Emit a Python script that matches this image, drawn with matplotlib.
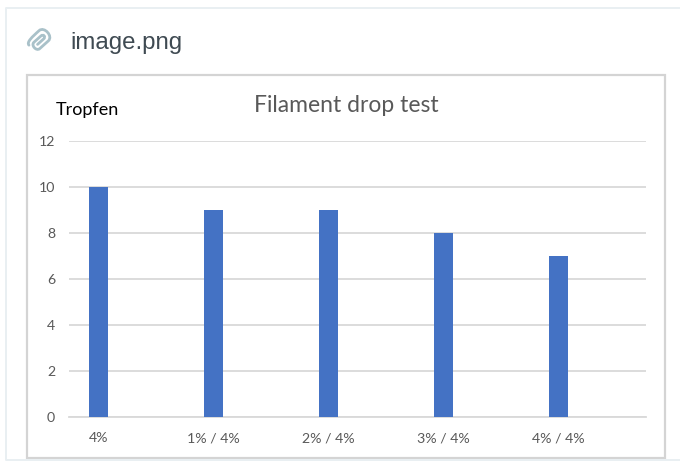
import matplotlib.pyplot as plt
from matplotlib.patches import PathPatch, Rectangle
from matplotlib.path import Path
from matplotlib.transforms import Affine2D

categories = ["4%", "1% / 4%", "2% / 4%", "3% / 4%", "4% / 4%"]
drops = [10, 9, 9, 8, 7]
y_ticks = [0, 2, 4, 6, 8, 10, 12]

W, H = 680, 476

plt.rcParams["font.family"] = ["Lato", "DejaVu Sans"]

fig = plt.figure(figsize=(W / 100, H / 100), dpi=100)

# Page frame and chart box, in pixel coordinates
bg = fig.add_axes([0, 0, 1, 1])
bg.set_xlim(0, W)
bg.set_ylim(H, 0)
bg.axis("off")
frame = "#e9eff2"
bg.plot([680, 6, 6, 680], [8, 8, 460, 460], color=frame, lw=1.4)
bg.add_patch(Rectangle((26.5, 75), 638.5, 383, fc="white", ec="#d4d4d4", lw=1.6))

# Paperclip icon, no installed font has this glyph
clip_verts = [
    (-8, -3.5), (-8, -7), (-1, -7), (7, -7),
    (13, -7), (13, 5), (7, 5),
    (-3, 5), (-7, 5), (-7, -2.5), (-3, -2.5),
    (5, -2.5), (8, -2.5), (8, 1), (5, 1),
    (-2, 1),
]
clip_codes = [
    Path.MOVETO, Path.CURVE4, Path.CURVE4, Path.LINETO,
    Path.CURVE4, Path.CURVE4, Path.CURVE4,
    Path.LINETO, Path.CURVE4, Path.CURVE4, Path.CURVE4,
    Path.LINETO, Path.CURVE4, Path.CURVE4, Path.CURVE4,
    Path.LINETO,
]
clip_move = Affine2D().scale(1.15).rotate_deg(-42).translate(38.5, 42)
clip = Path(clip_verts, clip_codes).transformed(clip_move)
bg.add_patch(PathPatch(clip, fc="none", ec="#a9c1c9", lw=2, capstyle="round"))

fig.text(70.5 / W, 1 - 42.5 / H, "image.png", fontsize=17.3, color="#3f4a52",
         family=["Liberation Sans", "DejaVu Sans"], va="center")

fig.text(346 / W, 1 - 105.5 / H, "Filament drop test", fontsize=16.5,
         color="#595959", ha="center", va="center")
fig.text(87.5 / W, 1 - 110 / H, "Tropfen", fontsize=13, color="black",
         ha="center", va="center")

ax = fig.add_axes([69 / W, 1 - 417 / H, 577 / W, 276 / H])
x = range(len(categories))
ax.bar(x, drops, width=0.165, color="#4472c4", zorder=3)
ax.set_xlim(-0.255, 4.765)
ax.set_ylim(0, 12)
ax.set_yticks(y_ticks)
ax.set_xticks(list(x))
ax.set_xticklabels(categories)
ax.tick_params(length=0, labelsize=10.2, labelcolor="#595959")
ax.tick_params(axis="x", pad=11)
ax.tick_params(axis="y", pad=10)
ax.grid(axis="y", color="#d9d9d9", lw=1.3, zorder=0)
for side in ["top", "right", "left"]:
    ax.spines[side].set_visible(False)
ax.spines["bottom"].set_color("#d9d9d9")
ax.spines["bottom"].set_linewidth(1.3)
ax.patch.set_alpha(0)

fig.savefig("out.png", dpi=100)
